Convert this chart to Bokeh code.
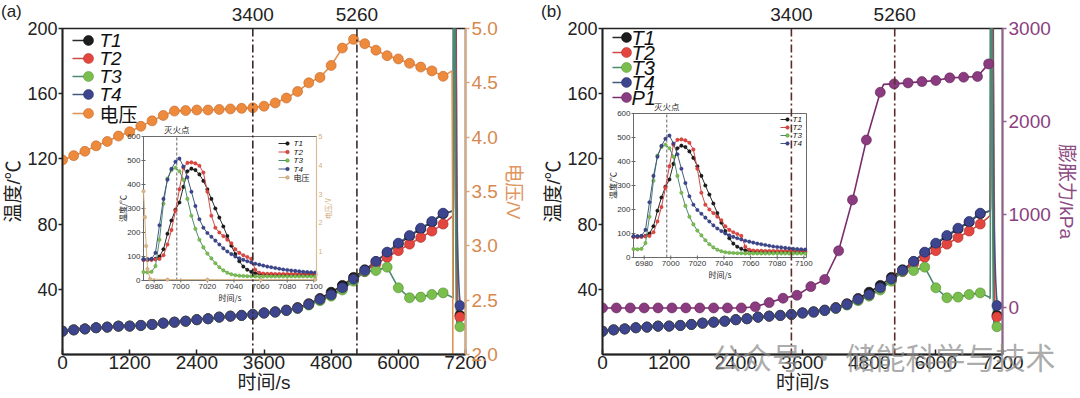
import math
from bokeh.plotting import figure
from bokeh.models import (Range1d, LinearAxis, FixedTicker, Span, Label, LabelSet,
                          ColumnDataSource, PrintfTickFormatter, Div)
from bokeh.layouts import row
from bokeh.embed import file_html
from bokeh.resources import INLINE
from bokeh.core.properties import value

# ---------------- data ----------------
time_s = [0, 200, 400, 600, 800, 1000, 1200, 1400, 1600, 1800, 2000, 2200, 2400, 2600,
          2800, 3000, 3200, 3400, 3600, 3800, 4000, 4200, 4400, 4600, 4800, 5000, 5200,
          5400, 5600, 5800, 6000, 6200, 6400, 6600, 6800]
T1 = [14.3, 15.1, 15.7, 16.4, 16.8, 17.4, 17.5, 17.9, 18.5, 19.3, 19.9, 20.5, 21.4, 22.0,
      23.0, 23.6, 24.1, 24.7, 25.6, 26.3, 27.3, 28.8, 31.2, 34.4, 38.2, 42.4, 47.3,
      52.0, 57.0, 62.4, 67.8, 72.5, 77.0, 81.2, 86.3]
T2 = [14.3, 15.1, 15.7, 16.4, 16.8, 17.4, 17.4, 17.8, 18.4, 19.2, 19.8, 20.4, 21.3, 21.9,
      22.9, 23.5, 23.9, 24.5, 25.4, 26.0, 27.0, 28.4, 30.7, 33.6, 36.4, 40.6, 45.8,
      50.8, 55.6, 59.6, 63.7, 67.7, 71.8, 75.7, 80.0]
T3 = [14.3, 15.1, 15.7, 16.4, 16.8, 17.4, 17.4, 17.8, 18.4, 19.2, 19.8, 20.4, 21.3, 21.9,
      22.9, 23.5, 23.9, 24.5, 25.4, 26.0, 26.9, 28.2, 30.3, 33.0, 35.8, 39.6, 45.0,
      50.9, 51.5, 53.6, 40.9, 34.8, 35.2, 36.8, 37.8]
T4 = [14.3, 15.1, 15.7, 16.4, 16.8, 17.4, 17.4, 17.8, 18.4, 19.2, 19.8, 20.4, 21.3, 21.9,
      22.9, 23.5, 23.9, 24.5, 25.4, 26.0, 27.0, 28.4, 30.7, 33.7, 36.6, 40.9, 46.2,
      51.5, 57.1, 62.8, 68.3, 73.0, 77.5, 81.6, 86.7]
end_time = [7100]
T1_end = [24]
T2_end = [23]
T3_end = [17]
T4_end = [30]

voltage = [3.79, 3.83, 3.87, 3.92, 3.96, 4.01, 4.05, 4.10, 4.15, 4.20, 4.24, 4.245, 4.25,
           4.25, 4.255, 4.26, 4.265, 4.27, 4.285, 4.315, 4.36, 4.42, 4.50, 4.55, 4.66,
           4.82, 4.90, 4.86, 4.80, 4.75, 4.72, 4.68, 4.645, 4.61, 4.56]
volt_pre_drop_time = [6960]
volt_pre_drop = [4.61]

p_time = [0, 250, 500, 750, 1000, 1250, 1500, 1750, 2000, 2250, 2500, 2750, 3000, 3250,
          3500, 3750, 4000, 4250, 4500, 4750, 5000, 5250, 5500, 5750, 6000, 6250, 6500,
          6750, 6950]
pressure = [0, 0, 0, 0, 0, 0, 0, 0, 0, 0, 0, 12, 57, 104, 136, 229, 305, 613, 1160, 1803,
            2315, 2405, 2416, 2430, 2441, 2470, 2477, 2484, 2620]
p_knee_time = [5060]
p_knee = [2400]

inset_time = [6972, 6975, 6978, 6981, 6984, 6987, 6990, 6993, 6996, 6999, 7002, 7005,
              7008, 7011, 7014, 7017, 7020, 7023, 7026, 7029, 7032, 7035, 7038, 7041,
              7044, 7047, 7050, 7053, 7056, 7059, 7062, 7065, 7068, 7071, 7074, 7077,
              7080, 7083, 7086, 7089, 7092, 7095, 7098, 7101]
T1_in = [88, 88, 88, 90, 100, 130, 195, 250, 295, 325, 390, 455, 466, 460, 442, 415, 380,
         340, 300, 262, 225, 185, 145, 110, 80, 58, 45, 36, 30, 28, 26, 25, 25, 24, 24, 24,
         24, 24, 24, 24, 24, 24, 24, 24]
T2_in = [85, 85, 86, 88, 90, 105, 150, 210, 290, 380, 470, 490, 492, 488, 478, 450, 370,
         270, 220, 200, 185, 170, 155, 130, 115, 105, 98, 90, 45, 32, 29, 28, 28, 27, 27,
         27, 27, 27, 27, 27, 27, 27, 27, 27]
T3_in = [35, 34, 36, 60, 170, 320, 425, 460, 470, 455, 420, 340, 270, 215, 170, 138, 112,
         92, 72, 55, 42, 32, 26, 22, 20, 19, 18, 18, 17, 17, 17, 17, 17, 17, 17, 17, 17, 17,
         17, 17, 17, 17, 17, 17]
T4_in = [88, 88, 90, 115, 230, 340, 420, 465, 495, 508, 475, 430, 370, 310, 255, 220, 198,
         182, 166, 150, 134, 121, 110, 100, 92, 86, 80, 75, 70, 66, 62, 58, 55, 52, 49, 46,
         44, 42, 40, 38, 36, 35, 34, 33]
volt_in_time = [6972, 6973, 6974, 6975, 6977, 6990, 7020, 7060, 7101]
volt_in = [3.1, 2.2, 1.2, 0.4, 0.05, 0.03, 0.03, 0.03, 0.03]

event_times = [3400, 5260]
extinguish_time = [6997]

x_ticks = [0, 1200, 2400, 3600, 4800, 6000, 7200]
y_ticks = [40, 80, 120, 160, 200]
v_ticks = [2.0, 2.5, 3.0, 3.5, 4.0, 4.5, 5.0]
p_ticks = [0, 1000, 2000, 3000]
inset_x_ticks = [6980, 7000, 7020, 7040, 7060, 7080, 7100]
inset_y_ticks = [0, 100, 200, 300, 400, 500, 600]
inset_v_ticks = [1, 2, 3, 4, 5]

panel_tags = ["(a)", "(b)"]
watermark = "公众号 · 储能科学与技术"

# ---------------- style ----------------
W, H = 540, 398
TOP, BOTTOM = 28, 44
FH = H - TOP - BOTTOM
LAT = "Liberation Sans"
CJK = "Noto Sans CJK SC"
MIX = "Liberation Sans, Noto Sans CJK SC"

MK = {"T1": "#1d1d1d", "T2": "#e3463f", "T3": "#7abf4e", "T4": "#3c458e",
      "V": "#ee8a3c", "P": "#8b3b80", "Vin": "#d9b88c"}
LN = {"T1": "#2b2b2b", "T2": "#cf4a45", "T3": "#4d8a70", "T4": "#43587e",
      "V": "#e39150", "P": "#7a2d6c", "Vin": "#d4b07f"}
OL = {"T1": "#000000", "T2": "#a82a25", "T3": "#4f8a2e", "T4": "#262c66",
      "V": "#c0652a", "P": "#5e2056", "Vin": "#b08a5a"}


def sub_range(lo, hi, p0, p1, total):
    upp = (hi - lo) / (p1 - p0)
    return Range1d(start=lo - p0 * upp, end=hi + (total - p1) * upp)


def style_axis(ax, color="#222222", line_color="#222222", title=None, title_color=None,
               size="19px"):
    ax.axis_line_color = line_color
    ax.axis_line_width = 1.8
    ax.major_tick_line_color = line_color
    ax.major_tick_line_width = 1.5
    ax.minor_tick_line_color = None
    ax.major_label_text_font = LAT
    ax.major_label_text_font_size = size
    ax.major_label_text_color = color
    if title is not None:
        ax.axis_label = title
        ax.axis_label_text_font = MIX
        ax.axis_label_text_font_size = "19px"
        ax.axis_label_text_font_style = "normal"
        ax.axis_label_text_color = title_color or color


def label(p, x, y, text, xr="px", yr="py", size="20px", color="#222222", font=CJK,
          align="center", baseline="middle", angle=0.0, xo=0, yo=0, alpha=1.0):
    p.add_layout(Label(x=x, y=y, text=text, x_range_name=xr, y_range_name=yr,
                       text_font=font, text_font_size=size, text_color=color,
                       text_align=align, text_baseline=baseline, angle=angle,
                       x_offset=xo, y_offset=yo, text_alpha=alpha))


def labelset(p, xs, ys, texts, xr, yr, size="8px", color="#333333", align="center",
             baseline="middle", xo=0, yo=0):
    src = ColumnDataSource(dict(x=xs, y=ys, text=texts))
    p.add_layout(LabelSet(x="x", y="y", text="text", source=src, x_range_name=xr,
                          y_range_name=yr, text_font=value(LAT), text_font_size=value(size),
                          text_color=value(color), text_align=value(align),
                          text_baseline=value(baseline), x_offset=xo, y_offset=yo))


def legend(p, entries, x0, x1, xm, xt, ys, size, msize, lw):
    for (key, txt, italic), yy in zip(entries, ys):
        p.segment(x0=[x0], y0=[yy], x1=[x1], y1=[yy], line_color=LN[key], line_width=lw,
                  x_range_name="px", y_range_name="py")
        p.scatter(x=[xm], y=[yy], size=msize, fill_color=MK[key], line_color=OL[key],
                  line_width=0.5, x_range_name="px", y_range_name="py")
        p.text(x=[xt], y=[yy], text=[txt], text_font=value(LAT if italic else CJK),
               text_font_style="italic" if italic else "normal", text_font_size=size,
               text_baseline="middle", text_align="left", text_color="#111111",
               x_range_name="px", y_range_name="py")


def build_panel(left, fw, kind):
    p = figure(width=W, height=H, x_range=Range1d(0, 7200), y_range=Range1d(0, 200),
               output_backend="svg", toolbar_location=None,
               min_border_left=left, min_border_right=W - left - fw,
               min_border_top=TOP, min_border_bottom=BOTTOM,
               background_fill_color="white", border_fill_color="white")
    p.outline_line_color = "#222222"
    p.outline_line_width = 1.5
    p.xgrid.visible = False
    p.ygrid.visible = False

    box = (81, 254, 74, 218) if kind == "V" else (31, 204, 97, 241)
    xr = {"px": Range1d(0, fw), "ix": sub_range(inset_time[0], 7102, box[0], box[1], fw)}
    yr = {"py": Range1d(0, FH), "iy": sub_range(0, 600, box[2], box[3], FH)}
    if kind == "V":
        yr["v"] = Range1d(2.0, 5.0)
        yr["iv"] = sub_range(0, 5, box[2], box[3], FH)
    else:
        yr["p"] = Range1d(-500, 3000)
    p.extra_x_ranges = xr
    p.extra_y_ranges = yr

    xa = p.xaxis[0]
    style_axis(xa, title="时间/s")
    xa.ticker = FixedTicker(ticks=x_ticks)
    xa.major_tick_in = 5
    xa.major_tick_out = 0
    xa.major_label_standoff = 1
    xa.axis_label_standoff = 0
    ya = p.yaxis[0]
    style_axis(ya, title="温度/℃", size="18px")
    ya.ticker = FixedTicker(ticks=y_ticks)
    ya.major_tick_in = 0
    ya.major_tick_out = 4
    ya.major_label_standoff = 1
    ya.axis_label_standoff = 0

    if kind == "V":
        ra = LinearAxis(y_range_name="v", ticker=FixedTicker(ticks=v_ticks),
                        formatter=PrintfTickFormatter(format="%.1f"))
        style_axis(ra, color="#d6894f", line_color="#dba77c", title="电压/V",
                   title_color="#e0955f")
    else:
        ra = LinearAxis(y_range_name="p", ticker=FixedTicker(ticks=p_ticks))
        style_axis(ra, color="#8a3f80", line_color="#94608d", title="膨胀力/kPa",
                   title_color="#8c4a83")
    ra.major_tick_in = 0
    ra.major_tick_out = 4
    ra.major_label_standoff = 2
    ra.axis_label_standoff = 2
    p.add_layout(ra, "right")

    ta = LinearAxis(ticker=FixedTicker(ticks=event_times))
    style_axis(ta)
    ta.axis_line_color = None
    ta.major_tick_line_color = None
    ta.major_label_standoff = 2
    p.add_layout(ta, "above")

    # event lines
    for t in event_times:
        p.add_layout(Span(location=t, dimension="height",
                          line_color="#3a2a2a" if kind == "V" else "#5a2d2d",
                          line_width=1.6, line_dash="8 3 2 3"))

    # ---- main curves ----
    lt = time_s + inset_time
    for key, arr, arr_in in (("T1", T1, T1_in), ("T2", T2, T2_in), ("T4", T4, T4_in),
                             ("T3", T3, T3_in)):
        p.line(lt, arr + arr_in, line_color=LN[key], line_width=1.6)
    if kind == "V":
        p.line(time_s + volt_pre_drop_time + volt_in_time, voltage + volt_pre_drop + volt_in,
               line_color=LN["V"], line_width=1.6, y_range_name="v")
    else:
        pl_t = p_time[:21] + p_knee_time + p_time[21:]
        pl_v = pressure[:21] + p_knee + pressure[21:]
        p.line(pl_t, pl_v, line_color=LN["P"], line_width=1.6, y_range_name="p")

    for key, arr, e in (("T1", T1, T1_end), ("T2", T2, T2_end), ("T3", T3, T3_end),
                        ("T4", T4, T4_end)):
        p.scatter(time_s + end_time, arr + e, size=10, fill_color=MK[key],
                  line_color=OL[key], line_width=0.6)
    if kind == "V":
        p.scatter(time_s, voltage, size=10, fill_color=MK["V"], line_color=OL["V"],
                  line_width=0.6, y_range_name="v")
    else:
        p.scatter(p_time, pressure, size=10, fill_color=MK["P"], line_color=OL["P"],
                  line_width=0.6, y_range_name="p")

    # ---- inset ----
    ik = dict(x_range_name="ix", y_range_name="iy")
    p.quad(left=[inset_time[0]], right=[7102], bottom=[inset_y_ticks[0]],
           top=[inset_y_ticks[-1]], fill_color=None, line_color="#6a6a6a", line_width=1, **ik)
    p.segment(x0=extinguish_time, y0=[inset_y_ticks[0]], x1=extinguish_time,
              y1=[inset_y_ticks[-1]], line_color="#666666", line_width=1, line_dash="3 2", **ik)
    for key, arr in (("T1", T1_in), ("T2", T2_in), ("T3", T3_in), ("T4", T4_in)):
        p.line(inset_time, arr, line_color=LN[key], line_width=1, **ik)
        p.scatter(inset_time, arr, size=3.6, fill_color=MK[key], line_color=OL[key],
                  line_width=0.3, **ik)
    p.scatter([inset_time[0]] * len(inset_y_ticks), inset_y_ticks, marker="dash", size=4,
              line_color="#666666", **ik)
    p.scatter(inset_x_ticks, [0] * len(inset_x_ticks), marker="dash", angle=math.pi / 2,
              size=4, line_color="#666666", **ik)
    labelset(p, [inset_time[0]] * len(inset_y_ticks), inset_y_ticks,
             [str(v) for v in inset_y_ticks], "ix", "iy", align="right", xo=-3)
    labelset(p, inset_x_ticks, [0] * len(inset_x_ticks), [str(v) for v in inset_x_ticks],
             "ix", "iy", baseline="top", yo=-3)
    label(p, inset_time[0], 300, "温度/℃", xr="ix", yr="iy", size="8px", angle=math.pi / 2,
          xo=-21)
    label(p, 7037, 0, "时间/s", xr="ix", yr="iy", size="8px", yo=-17)
    label(p, extinguish_time[0], 600, "灭火点", xr="ix", yr="iy", size="8.5px",
          baseline="bottom", yo=2)

    if kind == "V":
        vk = dict(x_range_name="ix", y_range_name="iv")
        p.segment(x0=[7102], y0=[0], x1=[7102], y1=[5], line_color="#d9bc94", line_width=1.2,
                  **vk)
        p.line(volt_in_time, volt_in, line_color=LN["Vin"], line_width=1, **vk)
        p.scatter(volt_in_time, volt_in, size=3.6, fill_color=MK["Vin"], line_color=OL["Vin"],
                  line_width=0.3, **vk)
        labelset(p, [7102] * len(inset_v_ticks), inset_v_ticks,
                 [str(v) for v in inset_v_ticks], "ix", "iv", size="7px", color="#d2ad7c",
                 align="left", xo=2)
        label(p, 7102, 2.5, "电压/V", xr="ix", yr="iv", size="7px", color="#d2ad7c",
              angle=math.pi / 2, xo=11)
        legend(p, [("T1", "T1", True), ("T2", "T2", True), ("T3", "T3", True),
                   ("T4", "T4", True), ("V", "电压", False)],
               10, 26, 26, 37, [314, 296, 278, 260, 241], "19px", 10, 1.6)
        legend(p, [("T1", "T1", True), ("T2", "T2", True), ("T3", "T3", True),
                   ("T4", "T4", True), ("Vin", "电压", False)],
               216, 225, 225, 231, [211, 202.5, 194, 185.5, 177], "8px", 3.6, 1)
    else:
        legend(p, [("T1", "T1", True), ("T2", "T2", True), ("T3", "T3", True),
                   ("T4", "T4", True), ("P", "P1", True)],
               10, 24, 24, 29, [317, 302, 287, 272, 257], "20px", 10, 1.6)
        legend(p, [("T1", "T1", True), ("T2", "T2", True), ("T3", "T3", True),
                   ("T4", "T4", True)],
               178, 185, 185, 190, [235, 227, 219, 211], "8px", 3.6, 1)
    return p


def overlay_text(text, left, top, size, color, font, lh):
    return Div(text=text, width=10, height=10,
               styles={"position": "absolute", "left": f"{left}px", "top": f"{top}px",
                       "font-size": f"{size}px", "font-family": font, "color": color,
                       "line-height": f"{lh}px", "white-space": "nowrap", "margin": "0",
                       "padding": "0", "pointer-events": "none", "z-index": "5"})


pa = build_panel(62, 403, "V")
pb = build_panel(62, 400, "P")
tag_a = overlay_text(panel_tags[0], 1, 3, 17, "#222222", LAT, 17)
tag_b = overlay_text(panel_tags[1], 541, 3, 17, "#222222", LAT, 17)
wm = overlay_text(watermark, 712, 341, 30, "rgba(140,140,140,0.72)", CJK, 30)
layout = row(pa, pb, tag_a, tag_b, wm)

open("out.html", "w").write(file_html(layout, INLINE))
